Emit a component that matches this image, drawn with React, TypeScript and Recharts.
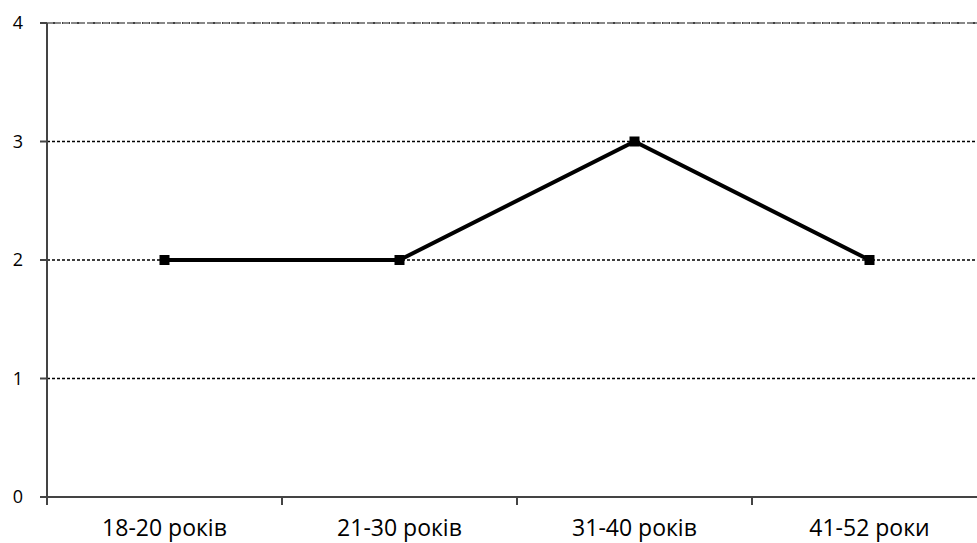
import React from "react";
import { LineChart, Line, XAxis, YAxis, CartesianGrid, ReferenceLine } from "recharts";

const categories = ["18-20 років", "21-30 років", "31-40 років", "41-52 роки"];
const values = [2, 2, 3, 2];
const yTicks = [0, 1, 2, 3, 4];
const boundaryTicks = [0, 1, 2, 3, 4];
const labelTicks = [0.5, 1.5, 2.5, 3.5];

const data = categories.map((c, i) => ({ name: c, x: i + 0.5, value: values[i] }));

const SquareDot = (props: any) => {
  const { cx, cy } = props;
  if (cx == null || cy == null) return null;
  return <rect x={cx - 5} y={cy - 5} width={10} height={10} fill="#000" />;
};

export default function App() {
  return (
    <div style={{ position: "absolute", left: 0, top: 0, width: 977, height: 543, overflow: "hidden", background: "#fff" }}>
      <LineChart width={1000} height={543} data={data} margin={{ top: 23, right: 13, bottom: 0, left: 0 }}>
        <CartesianGrid vertical={false} stroke="#000" strokeDasharray="3 2" strokeWidth={1.3} xAxisId="a" />
        <ReferenceLine y={4} xAxisId="a" stroke="#888" strokeDasharray="6 2" strokeWidth={2} />
        <XAxis
          xAxisId="b"
          type="number"
          dataKey="x"
          domain={[0, 4]}
          ticks={labelTicks}
          height={45}
          tickSize={8}
          tickMargin={14}
          axisLine={false}
          tickLine={false}
          tickFormatter={(v: number) => categories[Math.floor(v)]}
          tick={{ fill: "#000", fontSize: 23, fontFamily: "Open Sans" }}
          interval={0}
        />
        <XAxis
          xAxisId="a"
          type="number"
          dataKey="x"
          domain={[0, 4]}
          ticks={boundaryTicks}
          height={1}
          tickSize={8}
          tick={{ fontSize: 1, fill: "transparent" }}
          tickFormatter={() => ""}
          axisLine={{ stroke: "#444", strokeWidth: 2 }}
          tickLine={{ stroke: "#444", strokeWidth: 2 }}
        />
        <YAxis
          width={47}
          domain={[0, 4]}
          ticks={yTicks}
          tickSize={7}
          tickMargin={17}
          axisLine={{ stroke: "#444", strokeWidth: 2 }}
          tickLine={{ stroke: "#444", strokeWidth: 2 }}
          tick={{ fill: "#000", fontSize: 18, fontFamily: "Open Sans" }}
        />
        <Line
          xAxisId="a"
          type="linear"
          dataKey="value"
          stroke="#000"
          strokeWidth={4}
          dot={<SquareDot />}
          activeDot={false}
          isAnimationActive={false}
        />
      </LineChart>
    </div>
  );
}
